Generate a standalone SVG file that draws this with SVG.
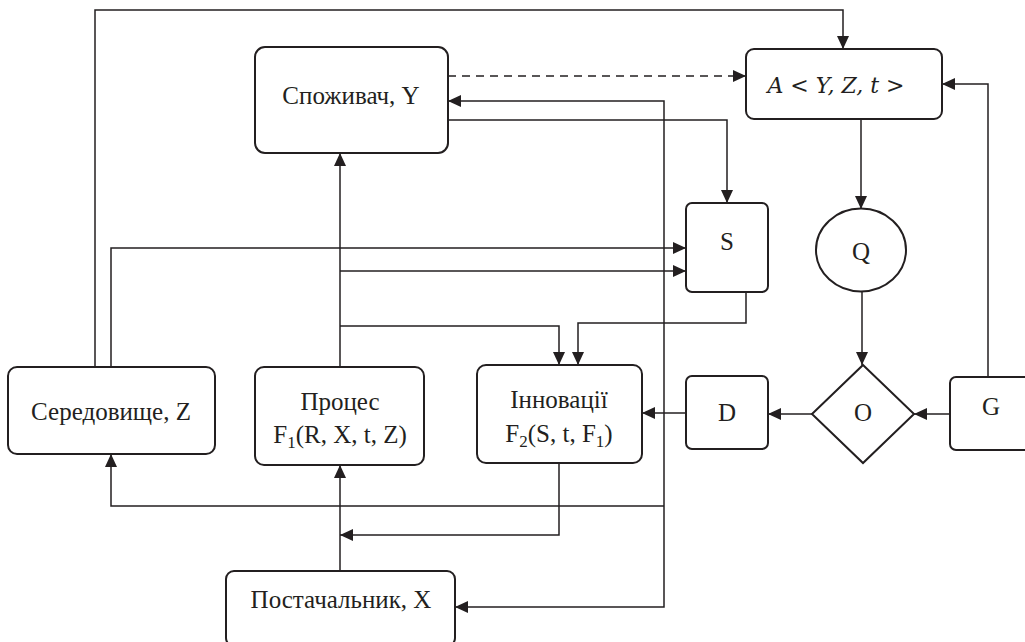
<svg xmlns="http://www.w3.org/2000/svg" width="1025" height="642" viewBox="0 0 1025 642">
<style>
.n{fill:#fff;stroke:#231f20;stroke-width:2}
.c{fill:none;stroke:#231f20;stroke-width:1.5}
.d{stroke-dasharray:8 6}
.t{font-family:"Liberation Serif","Times New Roman",serif;font-size:25px;fill:#231f20;text-anchor:middle}
.m{font-family:"DejaVu Serif","Liberation Serif",serif;font-style:italic;font-size:22px;fill:#231f20;text-anchor:middle}
</style>
<defs>
<marker id="a" markerUnits="userSpaceOnUse" markerWidth="14" markerHeight="12" refX="13" refY="6" orient="auto">
<path d="M0,0 L13,6 L0,12 Z" fill="#231f20"/>
</marker>
</defs>
<rect width="1025" height="642" fill="#fff"/>
<g id="connectors">
<path class="c" d="M95,367 V10 H843 V49" marker-end="url(#a)"/>
<path class="c d" d="M448,76 H746" marker-end="url(#a)"/>
<path class="c" d="M664,506 V101 H448" marker-end="url(#a)"/>
<path class="c" d="M664,506 V607 H455" marker-end="url(#a)"/>
<path class="c" d="M664,506 H111 V454" marker-end="url(#a)"/>
<path class="c" d="M448,120 H727 V203" marker-end="url(#a)"/>
<path class="c" d="M111,367 V248 H686" marker-end="url(#a)"/>
<path class="c" d="M340,367 V153" marker-end="url(#a)"/>
<path class="c" d="M340,271 H686" marker-end="url(#a)"/>
<path class="c" d="M340,326 H559 V365" marker-end="url(#a)"/>
<path class="c" d="M746,292 V323 H578 V365" marker-end="url(#a)"/>
<path class="c" d="M861,119 V209" marker-end="url(#a)"/>
<path class="c" d="M862,292 V365" marker-end="url(#a)"/>
<path class="c" d="M812,414 H768" marker-end="url(#a)"/>
<path class="c" d="M950,414 H914" marker-end="url(#a)"/>
<path class="c" d="M988,377 V84 H942" marker-end="url(#a)"/>
<path class="c" d="M686,413 H642" marker-end="url(#a)"/>
<path class="c" d="M559,463 V535 H340" marker-end="url(#a)"/>
<path class="c" d="M340,571 V465" marker-end="url(#a)"/>
</g>
<g id="spozhyvach">
<rect class="n" x="255" y="47" width="193" height="106" rx="10"/>
<text class="t" x="351" y="104">Споживач, Y</text>
</g>
<g id="A">
<rect class="n" x="746" y="49" width="196" height="70" rx="8"/>
<text class="m" x="836" y="93">A &lt; Y, Z, t &gt;</text>
</g>
<g id="S">
<rect class="n" x="686" y="203" width="82" height="89" rx="6"/>
<text class="t" x="727" y="250">S</text>
</g>
<g id="Q">
<ellipse class="n" cx="861" cy="250" rx="45" ry="41.5"/>
<text class="t" x="861" y="260">Q</text>
</g>
<g id="O">
<polygon class="n" points="863,365 914,414 863,463 812,414"/>
<text class="t" x="863" y="421">O</text>
</g>
<g id="D">
<rect class="n" x="686" y="376" width="82" height="73" rx="6"/>
<text class="t" x="727" y="421">D</text>
</g>
<g id="G">
<rect class="n" x="950" y="377" width="90" height="73" rx="6"/>
<text class="t" x="991" y="415">G</text>
</g>
<g id="seredovyshche">
<rect class="n" x="8" y="367" width="207" height="87" rx="9"/>
<text class="t" x="111" y="420">Середовище, Z</text>
</g>
<g id="protses">
<rect class="n" x="255" y="367" width="169" height="98" rx="9"/>
<text class="t" x="340" y="410">Процес</text>
<text class="t" x="340" y="443">F<tspan font-size="17" dy="5">1</tspan><tspan dy="-5">(R, X, t, Z)</tspan></text>
</g>
<g id="innovatsii">
<rect class="n" x="477" y="365" width="165" height="98" rx="9"/>
<text class="t" x="559" y="408">Інновації</text>
<text class="t" x="559" y="442">F<tspan font-size="17" dy="5">2</tspan><tspan dy="-5">(S, t, F</tspan><tspan font-size="17" dy="5">1</tspan><tspan dy="-5">)</tspan></text>
</g>
<g id="postachalnyk">
<rect class="n" x="226" y="571" width="229" height="75" rx="8"/>
<text class="t" x="341" y="608">Постачальник, X</text>
</g>
</svg>
